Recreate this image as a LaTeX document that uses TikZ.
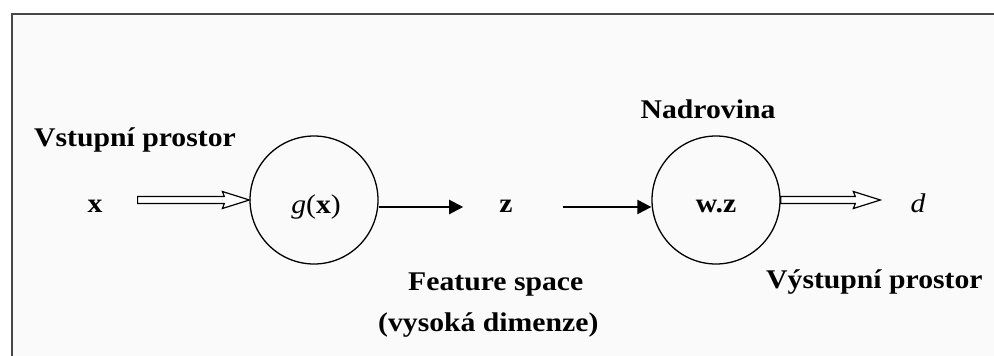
\documentclass[tikz,border=0pt]{standalone}
\usepackage{fontspec}
\setmainfont{Liberation Serif}[FakeStretch=1.1]
\usetikzlibrary{arrows.meta,calc}
\begin{document}
\begin{tikzpicture}[x=1pt,y=-1pt,
  lab/.style={font=\fontsize{27}{30}\selectfont\bfseries, inner sep=0pt},
  sym/.style={font=\fontsize{27}{30}\selectfont, inner sep=0pt},
  unit/.style={circle, draw, line width=1.3pt, minimum size=128pt, inner sep=0pt},
  farrow/.style={line width=2.2pt, -{Triangle[length=14pt,width=14pt]}},
  hollow/.style={draw, line width=1.2pt, fill=white, line join=miter},
  frame/.style={line width=2.5pt, draw=black!72}
]
\useasboundingbox (0,0) rectangle (994,356);
\fill[black!2] (12,14) rectangle (1000,360);
\draw[frame] (12,362) -- (12,14) -- (1000,14);

\node[unit] (g) at (314,200) {};
\node[unit] (w) at (716,200) {};
\node[sym, anchor=base] (gl) at (316,213) {\textit{g}(\textbf{x})};
\node[lab, anchor=base] (wl) at (716,212) {w.z};

\node[lab, anchor=base] (x) at (95,212) {x};
\node[lab, anchor=base] (z) at (506,212) {z};
\node[sym, anchor=base] (d) at (918,212) {\textit{d}};

\node[lab, anchor=base west] (vin) at (34,146) {Vstupní prostor};
\node[lab, anchor=base] (nad) at (708,118) {Nadrovina};
\node[lab, anchor=base west] (fs) at (408,290) {Feature space};
\node[lab, anchor=base west] (vd) at (378,331) {(vysoká dimenze)};
\node[lab, anchor=base west] (vout) at (766,288) {Výstupní prostor};

% hollow input arrow x -> g(x)
\coordinate (xs) at ($(x.east |- g.center)+(35,0)$);
\draw[hollow] ($(xs)+(0,-3.5)$) -- ($(g.west)+(-25,-3.5)$) -- ($(g.west)+(-27,-8.5)$)
  -- (g.west) -- ($(g.west)+(-27,8.5)$) -- ($(g.west)+(-25,3.5)$) -- ($(xs)+(0,3.5)$) -- cycle;

% filled arrows
\draw[farrow] (g.east |- 0,207) -- ($(z.west |- 0,207)+(-36,0)$);
\draw[farrow] ($(z.east |- 0,207)+(50,0)$) -- (w.west |- 0,207);

% hollow output arrow w.z -> d
\coordinate (de) at ($(d.west |- w.center)+(-30,0)$);
\draw[hollow] ($(w.east)+(0,-3.5)$) -- ($(de)+(-25,-3.5)$) -- ($(de)+(-27,-8.5)$)
  -- (de) -- ($(de)+(-27,8.5)$) -- ($(de)+(-25,3.5)$) -- ($(w.east)+(0,3.5)$) -- cycle;
\end{tikzpicture}
\end{document}
